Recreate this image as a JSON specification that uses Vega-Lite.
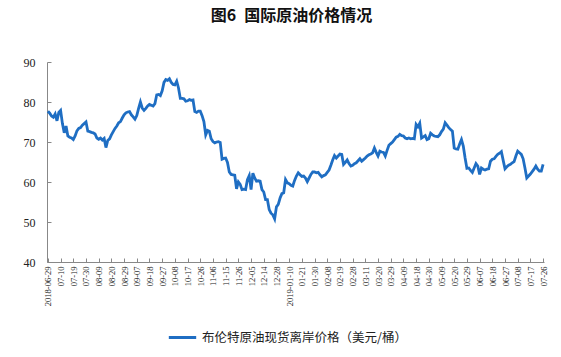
{
  "$schema": "https://vega.github.io/schema/vega-lite/v6.json",
  "width": 497,
  "height": 200,
  "autosize": {"type": "none"},
  "padding": {"left": 47, "top": 62, "right": 17, "bottom": 95},
  "background": "white",
  "title": {"text": "图6\u2002国际原油价格情况", "font": "Noto Sans CJK SC", "fontSize": 16, "fontWeight": "bold", "color": "#111111", "offset": 32, "anchor": "middle", "dx": -4},
  "data": {"values": [
    {"d":"2018-06-29","v":77.7},{"d":"2018-07-02","v":77.2},{"d":"2018-07-03","v":76.5},{"d":"2018-07-04","v":76.2},{"d":"2018-07-05","v":77.0},{"d":"2018-07-06","v":75.3},{"d":"2018-07-09","v":77.4},{"d":"2018-07-10","v":77.9},{"d":"2018-07-11","v":74.6},{"d":"2018-07-12","v":72.3},
    {"d":"2018-07-13","v":74.0},{"d":"2018-07-16","v":71.5},{"d":"2018-07-17","v":71.2},{"d":"2018-07-18","v":71.0},{"d":"2018-07-19","v":70.6},{"d":"2018-07-20","v":71.5},{"d":"2018-07-23","v":72.8},{"d":"2018-07-24","v":73.4},{"d":"2018-07-25","v":73.6},{"d":"2018-07-26","v":74.2},
    {"d":"2018-07-27","v":74.6},{"d":"2018-07-30","v":75.0},{"d":"2018-07-31","v":72.7},{"d":"2018-08-01","v":72.6},{"d":"2018-08-02","v":72.4},{"d":"2018-08-06","v":72.3},{"d":"2018-08-07","v":72.0},{"d":"2018-08-08","v":71.0},{"d":"2018-08-09","v":70.7},{"d":"2018-08-10","v":71.0},
    {"d":"2018-08-13","v":70.5},{"d":"2018-08-14","v":70.9},{"d":"2018-08-15","v":68.6},{"d":"2018-08-16","v":70.4},{"d":"2018-08-17","v":70.8},{"d":"2018-08-20","v":71.8},{"d":"2018-08-21","v":72.6},{"d":"2018-08-22","v":73.4},{"d":"2018-08-23","v":74.0},{"d":"2018-08-24","v":74.8},
    {"d":"2018-08-27","v":75.1},{"d":"2018-08-28","v":76.0},{"d":"2018-08-29","v":76.8},{"d":"2018-08-30","v":77.3},{"d":"2018-08-31","v":77.5},{"d":"2018-09-03","v":77.6},{"d":"2018-09-04","v":76.8},{"d":"2018-09-05","v":76.3},{"d":"2018-09-06","v":75.7},{"d":"2018-09-07","v":76.6},
    {"d":"2018-09-10","v":78.4},{"d":"2018-09-11","v":80.0},{"d":"2018-09-12","v":78.5},{"d":"2018-09-13","v":77.9},{"d":"2018-09-14","v":78.4},{"d":"2018-09-17","v":79.0},{"d":"2018-09-18","v":79.4},{"d":"2018-09-19","v":79.2},{"d":"2018-09-20","v":79.0},{"d":"2018-09-21","v":79.6},
    {"d":"2018-09-24","v":81.8},{"d":"2018-09-25","v":81.9},{"d":"2018-09-26","v":81.6},{"d":"2018-09-27","v":82.8},{"d":"2018-09-28","v":84.9},{"d":"2018-10-01","v":85.6},{"d":"2018-10-02","v":85.4},{"d":"2018-10-03","v":85.8},{"d":"2018-10-04","v":84.9},{"d":"2018-10-05","v":84.4},
    {"d":"2018-10-08","v":84.3},{"d":"2018-10-09","v":85.2},{"d":"2018-10-10","v":83.5},{"d":"2018-10-11","v":80.9},{"d":"2018-10-12","v":80.9},{"d":"2018-10-15","v":80.8},{"d":"2018-10-16","v":80.2},{"d":"2018-10-17","v":80.3},{"d":"2018-10-18","v":80.6},{"d":"2018-10-19","v":80.4},
    {"d":"2018-10-22","v":80.5},{"d":"2018-10-23","v":77.6},{"d":"2018-10-24","v":77.4},{"d":"2018-10-25","v":77.7},{"d":"2018-10-26","v":77.7},{"d":"2018-10-29","v":76.6},{"d":"2018-10-30","v":75.1},{"d":"2018-10-31","v":71.8},{"d":"2018-11-01","v":72.9},{"d":"2018-11-02","v":72.7},
    {"d":"2018-11-05","v":70.8},{"d":"2018-11-06","v":70.1},{"d":"2018-11-07","v":69.8},{"d":"2018-11-08","v":70.0},{"d":"2018-11-09","v":70.1},{"d":"2018-11-12","v":69.9},{"d":"2018-11-13","v":65.7},{"d":"2018-11-14","v":65.9},{"d":"2018-11-15","v":66.0},{"d":"2018-11-16","v":64.9},
    {"d":"2018-11-19","v":62.5},{"d":"2018-11-20","v":61.9},{"d":"2018-11-21","v":61.8},{"d":"2018-11-22","v":61.7},{"d":"2018-11-23","v":58.3},{"d":"2018-11-26","v":60.0},{"d":"2018-11-27","v":59.4},{"d":"2018-11-28","v":58.1},{"d":"2018-11-29","v":58.2},{"d":"2018-11-30","v":58.1},
    {"d":"2018-12-03","v":60.6},{"d":"2018-12-04","v":61.6},{"d":"2018-12-05","v":58.1},{"d":"2018-12-06","v":62.2},{"d":"2018-12-07","v":61.0},{"d":"2018-12-10","v":60.2},{"d":"2018-12-11","v":60.3},{"d":"2018-12-12","v":60.2},{"d":"2018-12-13","v":58.1},{"d":"2018-12-14","v":57.5},
    {"d":"2018-12-17","v":55.6},{"d":"2018-12-18","v":55.6},{"d":"2018-12-19","v":53.1},{"d":"2018-12-20","v":52.2},{"d":"2018-12-21","v":51.8},{"d":"2018-12-24","v":50.8},{"d":"2018-12-28","v":53.8},{"d":"2019-01-02","v":54.4},{"d":"2019-01-03","v":56.0},{"d":"2019-01-04","v":57.1},
    {"d":"2019-01-07","v":57.3},{"d":"2019-01-08","v":60.6},{"d":"2019-01-09","v":59.8},{"d":"2019-01-10","v":59.6},{"d":"2019-01-11","v":59.2},{"d":"2019-01-14","v":59.0},{"d":"2019-01-15","v":60.4},{"d":"2019-01-16","v":61.5},{"d":"2019-01-17","v":62.3},{"d":"2019-01-18","v":61.8},
    {"d":"2019-01-21","v":61.4},{"d":"2019-01-22","v":61.5},{"d":"2019-01-23","v":61.0},{"d":"2019-01-24","v":60.1},{"d":"2019-01-25","v":61.0},{"d":"2019-01-28","v":61.9},{"d":"2019-01-29","v":62.5},{"d":"2019-01-30","v":62.5},{"d":"2019-01-31","v":62.3},{"d":"2019-02-01","v":62.4},
    {"d":"2019-02-04","v":61.8},{"d":"2019-02-05","v":61.3},{"d":"2019-02-06","v":61.6},{"d":"2019-02-07","v":61.8},{"d":"2019-02-08","v":62.4},{"d":"2019-02-11","v":63.0},{"d":"2019-02-12","v":64.2},{"d":"2019-02-13","v":65.5},{"d":"2019-02-14","v":66.6},{"d":"2019-02-15","v":66.0},
    {"d":"2019-02-18","v":66.5},{"d":"2019-02-19","v":67.0},{"d":"2019-02-20","v":66.9},{"d":"2019-02-21","v":64.4},{"d":"2019-02-22","v":64.9},{"d":"2019-02-25","v":65.5},{"d":"2019-02-26","v":64.6},{"d":"2019-02-27","v":64.0},{"d":"2019-02-28","v":64.2},{"d":"2019-03-01","v":64.6},
    {"d":"2019-03-04","v":64.8},{"d":"2019-03-05","v":65.3},{"d":"2019-03-06","v":65.8},{"d":"2019-03-07","v":65.2},{"d":"2019-03-08","v":65.6},{"d":"2019-03-11","v":66.0},{"d":"2019-03-12","v":66.5},{"d":"2019-03-13","v":66.8},{"d":"2019-03-14","v":67.0},{"d":"2019-03-15","v":67.3},
    {"d":"2019-03-18","v":68.5},{"d":"2019-03-19","v":67.4},{"d":"2019-03-20","v":66.5},{"d":"2019-03-21","v":67.7},{"d":"2019-03-22","v":67.5},{"d":"2019-03-25","v":67.4},{"d":"2019-03-26","v":66.5},{"d":"2019-03-27","v":67.9},{"d":"2019-03-28","v":69.2},{"d":"2019-03-29","v":69.6},
    {"d":"2019-04-01","v":70.0},{"d":"2019-04-02","v":70.6},{"d":"2019-04-03","v":71.2},{"d":"2019-04-04","v":71.4},{"d":"2019-04-05","v":71.9},{"d":"2019-04-08","v":71.6},{"d":"2019-04-09","v":71.5},{"d":"2019-04-10","v":71.0},{"d":"2019-04-11","v":70.8},{"d":"2019-04-12","v":71.0},
    {"d":"2019-04-15","v":70.8},{"d":"2019-04-16","v":70.9},{"d":"2019-04-17","v":70.8},{"d":"2019-04-18","v":74.4},{"d":"2019-04-22","v":73.8},{"d":"2019-04-23","v":74.7},{"d":"2019-04-24","v":71.0},{"d":"2019-04-25","v":71.3},{"d":"2019-04-26","v":71.6},{"d":"2019-04-29","v":70.6},
    {"d":"2019-04-30","v":70.8},{"d":"2019-05-01","v":72.2},{"d":"2019-05-02","v":71.8},{"d":"2019-05-03","v":71.5},{"d":"2019-05-06","v":71.4},{"d":"2019-05-07","v":71.3},{"d":"2019-05-08","v":71.8},{"d":"2019-05-09","v":72.6},{"d":"2019-05-10","v":73.2},{"d":"2019-05-13","v":74.8},
    {"d":"2019-05-14","v":74.2},{"d":"2019-05-15","v":73.6},{"d":"2019-05-16","v":73.1},{"d":"2019-05-17","v":72.7},{"d":"2019-05-20","v":68.5},{"d":"2019-05-21","v":68.3},{"d":"2019-05-22","v":68.2},{"d":"2019-05-23","v":69.5},{"d":"2019-05-24","v":70.6},{"d":"2019-05-27","v":69.0},
    {"d":"2019-05-28","v":66.0},{"d":"2019-05-29","v":63.4},{"d":"2019-05-30","v":63.5},{"d":"2019-05-31","v":62.9},{"d":"2019-06-03","v":62.4},{"d":"2019-06-04","v":63.5},{"d":"2019-06-05","v":64.6},{"d":"2019-06-06","v":64.0},{"d":"2019-06-07","v":61.9},{"d":"2019-06-10","v":63.5},
    {"d":"2019-06-11","v":63.2},{"d":"2019-06-12","v":63.0},{"d":"2019-06-13","v":63.2},{"d":"2019-06-14","v":63.3},{"d":"2019-06-17","v":65.2},{"d":"2019-06-18","v":65.7},{"d":"2019-06-19","v":65.8},{"d":"2019-06-20","v":66.4},{"d":"2019-06-21","v":66.9},{"d":"2019-06-24","v":67.2},
    {"d":"2019-06-25","v":67.6},{"d":"2019-06-26","v":65.4},{"d":"2019-06-27","v":63.3},{"d":"2019-06-28","v":63.8},{"d":"2019-07-01","v":64.2},{"d":"2019-07-02","v":64.4},{"d":"2019-07-03","v":64.8},{"d":"2019-07-04","v":65.1},{"d":"2019-07-05","v":66.5},{"d":"2019-07-08","v":67.7},
    {"d":"2019-07-09","v":67.3},{"d":"2019-07-10","v":66.9},{"d":"2019-07-11","v":65.8},{"d":"2019-07-12","v":63.5},{"d":"2019-07-15","v":61.0},{"d":"2019-07-16","v":61.5},{"d":"2019-07-17","v":62.0},{"d":"2019-07-18","v":62.6},{"d":"2019-07-19","v":63.2},{"d":"2019-07-22","v":64.0},
    {"d":"2019-07-23","v":63.2},{"d":"2019-07-24","v":62.7},{"d":"2019-07-25","v":62.7},{"d":"2019-07-26","v":64.4}
  ]},
  "mark": {"type": "line", "strokeWidth": 2.8},
  "encoding": {
    "x": {
      "field": "d", "type": "ordinal",
      "scale": {"type": "point", "padding": 0.5},
      "axis": {
        "title": null,
        "values": ["2018-06-29","2018-07-10","2018-07-19","2018-07-30","2018-08-09","2018-08-20","2018-08-29","2018-09-07","2018-09-18","2018-09-27","2018-10-08","2018-10-17","2018-10-26","2018-11-06","2018-11-15","2018-11-26","2018-12-05","2018-12-14","2018-12-28","2019-01-10","2019-01-21","2019-01-30","2019-02-08","2019-02-19","2019-02-28","2019-03-11","2019-03-20","2019-03-29","2019-04-09","2019-04-18","2019-04-30","2019-05-09","2019-05-20","2019-05-29","2019-06-07","2019-06-18","2019-06-27","2019-07-08","2019-07-17","2019-07-26"],
        "labelExpr": "datum.value == '2018-06-29' || datum.value == '2019-01-10' ? datum.value : substring(datum.value, 5)",
        "labelAngle": -90,
        "labelFont": "Liberation Serif",
        "labelFontSize": 8.5,
        "labelColor": "#222222",
        "labelOverlap": false,
        "domainColor": "#888888",
        "tickColor": "#888888",
        "tickSize": -4,
        "labelPadding": 8,
        "grid": false
      }
    },
    "y": {
      "field": "v", "type": "quantitative",
      "scale": {"domain": [40, 90], "nice": false, "zero": false},
      "axis": {
        "title": null,
        "values": [40, 50, 60, 70, 80, 90],
        "labelFont": "Liberation Serif",
        "labelFontSize": 12,
        "labelColor": "#222222",
        "domainColor": "#888888",
        "tickColor": "#888888",
        "tickSize": -4,
        "labelPadding": 16,
        "grid": false
      }
    },
    "color": {
      "datum": "布伦特原油现货离岸价格（美元/桶）",
      "scale": {"range": ["#1F6EC3"]},
      "legend": {
        "orient": "none", "legendX": 120, "legendY": 260,
        "title": null,
        "symbolType": "stroke", "symbolSize": 750, "symbolStrokeWidth": 3,
        "labelFont": "Noto Sans CJK SC", "labelFontSize": 12.5, "labelColor": "#222222", "labelLimit": 400
      }
    }
  },
  "config": {"view": {"stroke": null}}
}
